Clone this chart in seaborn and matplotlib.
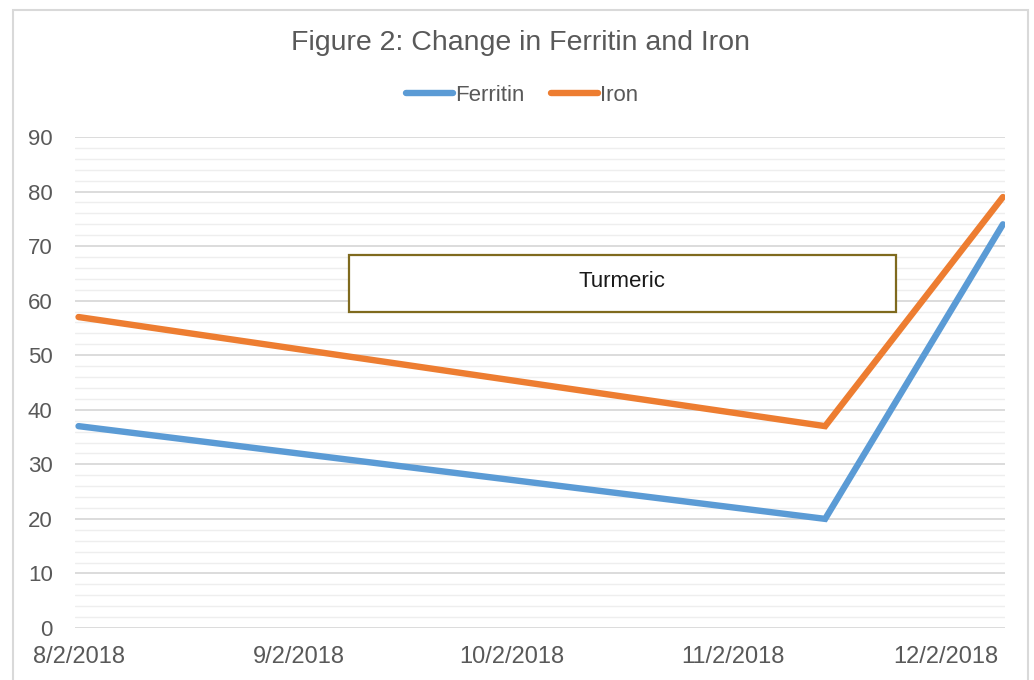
import pandas as pd
import matplotlib
matplotlib.use("Agg")
import matplotlib.pyplot as plt
import matplotlib.dates as mdates
from matplotlib.ticker import MultipleLocator
from matplotlib.patches import Rectangle
import seaborn as sns

# values
dates = ["2018-08-02", "2018-11-15", "2018-12-10"]
ferritin = [37, 20, 74]
iron = [57, 37, 79]

tick_dates = ["2018-08-02", "2018-09-02", "2018-10-02", "2018-11-02", "2018-12-02"]
tick_labels = ["8/2/2018", "9/2/2018", "10/2/2018", "11/2/2018", "12/2/2018"]

note_text = "Turmeric"
note_start, note_end = "2018-09-09", "2018-11-25"
note_low, note_high = 58, 68.3

df = pd.DataFrame({"Date": pd.to_datetime(dates), "Ferritin": ferritin, "Iron": iron})
long_df = df.melt(id_vars="Date", var_name="Series", value_name="Value")

sns.set_theme(style="white")
plt.rcParams["font.family"] = ["Liberation Sans", "DejaVu Sans"]

fig = plt.figure(figsize=(10.34, 6.8), dpi=100)
ax = fig.add_axes([0.0725, 0.0765, 0.8995, 0.722])

sns.lineplot(data=long_df, x="Date", y="Value", hue="Series",
             palette={"Ferritin": "#5B9BD5", "Iron": "#ED7D31"},
             linewidth=4.6, ax=ax, legend=True)
for ln in ax.lines:
    ln.set_solid_capstyle("round")
    ln.set_solid_joinstyle("miter")

ax.set_ylim(0, 90)
ax.yaxis.set_major_locator(MultipleLocator(10))
ax.yaxis.set_minor_locator(MultipleLocator(2))
ax.grid(which="major", axis="y", color="#D9D9D9", linewidth=1.3)
ax.grid(which="minor", axis="y", color="#EEEEEE", linewidth=1.0)
ax.grid(False, axis="x")
ax.set_axisbelow(True)

ticks = pd.to_datetime(tick_dates)
ax.set_xticks(mdates.date2num(ticks))
ax.set_xticklabels(tick_labels)
x0 = mdates.date2num(pd.Timestamp(dates[0]))
x1 = mdates.date2num(pd.Timestamp(dates[-1]))
ax.set_xlim(x0 - 0.5, x1 + 0.3)

ax.tick_params(axis="both", which="both", length=0, labelsize=16, labelcolor="#595959")
ax.tick_params(axis="x", labelsize=17, pad=13)
ax.tick_params(axis="y", pad=16)
ax.set_xlabel("")
ax.set_ylabel("")
for s in ax.spines.values():
    s.set_visible(False)

# annotation box
ns = mdates.date2num(pd.Timestamp(note_start))
ne = mdates.date2num(pd.Timestamp(note_end))
ax.add_patch(Rectangle((ns, note_low), ne - ns, note_high - note_low,
                       fill=True, facecolor="white", edgecolor="#7F6A1E", linewidth=1.6, zorder=3))
ax.text((ns + ne) / 2, (note_low + note_high) / 2 + 0.4, note_text, ha="center", va="center",
        fontsize=16, color="#1A1A1A", zorder=4)

handles, labels = ax.get_legend_handles_labels()
ax.legend_.remove()
fig.legend(handles, labels, loc="center", bbox_to_anchor=(0.505, 0.86), ncol=2,
           frameon=False, fontsize=16, handlelength=2.1, handletextpad=0.1,
           columnspacing=1.2, labelcolor="#595959")

fig.text(0.503, 0.937, "Figure 2: Change in Ferritin and Iron", ha="center", va="center",
         fontsize=20.5, color="#595959")

# outer chart border
fig.patches.append(Rectangle((0.013, -0.05), 0.981, 1.035, transform=fig.transFigure,
                             fill=False, edgecolor="#D9D9D9", linewidth=1.5))

fig.savefig("out.png", dpi=100)
